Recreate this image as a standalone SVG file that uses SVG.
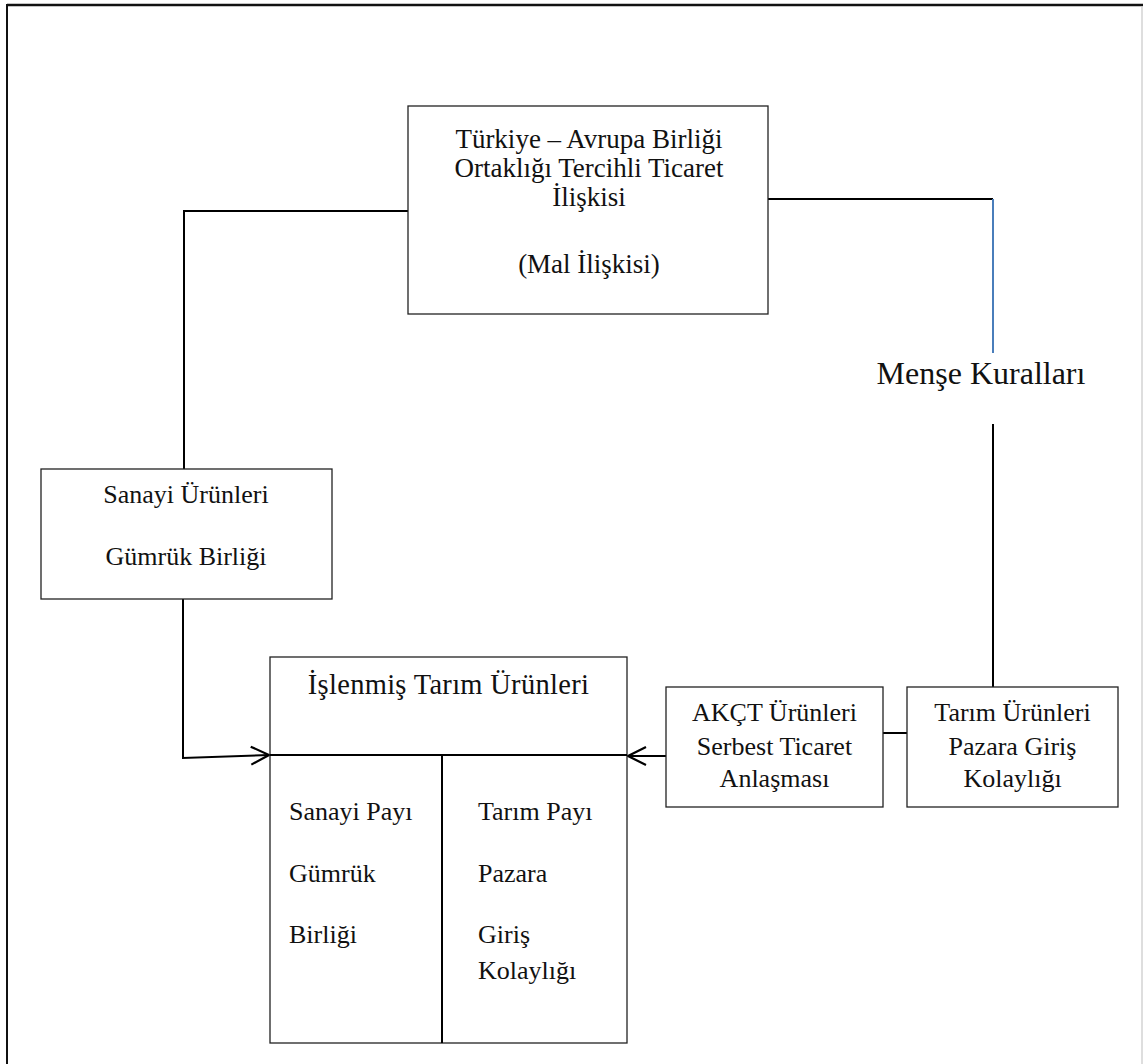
<svg xmlns="http://www.w3.org/2000/svg" width="1143" height="1064" viewBox="0 0 1143 1064">
<defs>
<style>
text{font-family:"Liberation Serif","Times New Roman",serif;font-size:26px;fill:#111}
.c{text-anchor:middle}
.t27{font-size:27px}
.box{fill:#fff;stroke:#222;stroke-width:1.3}
.ln{fill:none;stroke:#000;stroke-width:2}
</style>
<marker id="arr" markerUnits="userSpaceOnUse" viewBox="0 0 22 22" markerWidth="22" markerHeight="22" refX="20" refY="11" orient="auto">
<path d="M2,2 L20,11 L2,20" fill="none" stroke="#000" stroke-width="2.2"/>
</marker>
</defs>
<rect x="0" y="0" width="1143" height="1064" fill="#fff"/>
<g id="frame">
<line x1="7" y1="5" x2="1143" y2="5" stroke="#111" stroke-width="2.4"/>
<line x1="7" y1="4" x2="7" y2="1064" stroke="#111" stroke-width="2"/>
<line x1="1142" y1="6" x2="1142" y2="1064" stroke="#c8c8c8" stroke-width="1.2"/>
</g>
<g id="connectors">
<polyline class="ln" points="408,211 184,211 184,469"/>
<polyline class="ln" points="768,199 993,199"/>
<line x1="993" y1="199" x2="993" y2="353" stroke="#4a7ebb" stroke-width="2"/>
<line class="ln" x1="993" y1="424" x2="993" y2="687"/>
<polyline class="ln" points="183,599 183,758 269,755" marker-end="url(#arr)"/>
<line class="ln" x1="666" y1="756" x2="628" y2="756" marker-end="url(#arr)"/>
<line class="ln" x1="883" y1="733" x2="907" y2="733"/>
</g>
<g id="node-main">
<rect class="box" x="408" y="106" width="360" height="208"/>
<text class="c t27" x="589" y="148">Türkiye – Avrupa Birliği</text>
<text class="c t27" x="589" y="177">Ortaklığı Tercihli Ticaret</text>
<text class="c t27" x="589" y="206">İlişkisi</text>
<text class="c t27" x="589" y="273">(Mal İlişkisi)</text>
</g>
<g id="node-mense">
<text class="c" x="981" y="384" style="font-size:32px">Menşe Kuralları</text>
</g>
<g id="node-sanayi">
<rect class="box" x="41" y="469" width="291" height="130"/>
<text class="c" x="186" y="503">Sanayi Ürünleri</text>
<text class="c" x="186" y="565">Gümrük Birliği</text>
</g>
<g id="node-islenmis">
<rect class="box" x="270" y="657" width="357" height="386"/>
<line x1="270" y1="755" x2="627" y2="755" stroke="#000" stroke-width="2"/>
<line x1="442" y1="755" x2="442" y2="1043" stroke="#000" stroke-width="2"/>
<text class="c" x="448.5" y="694" style="font-size:28.5px;letter-spacing:0.3px">İşlenmiş Tarım Ürünleri</text>
<text x="289" y="820">Sanayi Payı</text>
<text x="289" y="882">Gümrük</text>
<text x="289" y="943">Birliği</text>
<text x="478" y="820">Tarım Payı</text>
<text x="478" y="882">Pazara</text>
<text x="478" y="943">Giriş</text>
<text x="478" y="979">Kolaylığı</text>
</g>
<g id="node-akct">
<rect class="box" x="666" y="687" width="217" height="120"/>
<text class="c" x="774.5" y="721">AKÇT Ürünleri</text>
<text class="c" x="774.5" y="755">Serbest Ticaret</text>
<text class="c" x="774.5" y="787">Anlaşması</text>
</g>
<g id="node-tarim">
<rect class="box" x="907" y="687" width="211" height="120"/>
<text class="c" x="1012.5" y="721">Tarım Ürünleri</text>
<text class="c" x="1012.5" y="755">Pazara Giriş</text>
<text class="c" x="1012.5" y="787">Kolaylığı</text>
</g>
</svg>
